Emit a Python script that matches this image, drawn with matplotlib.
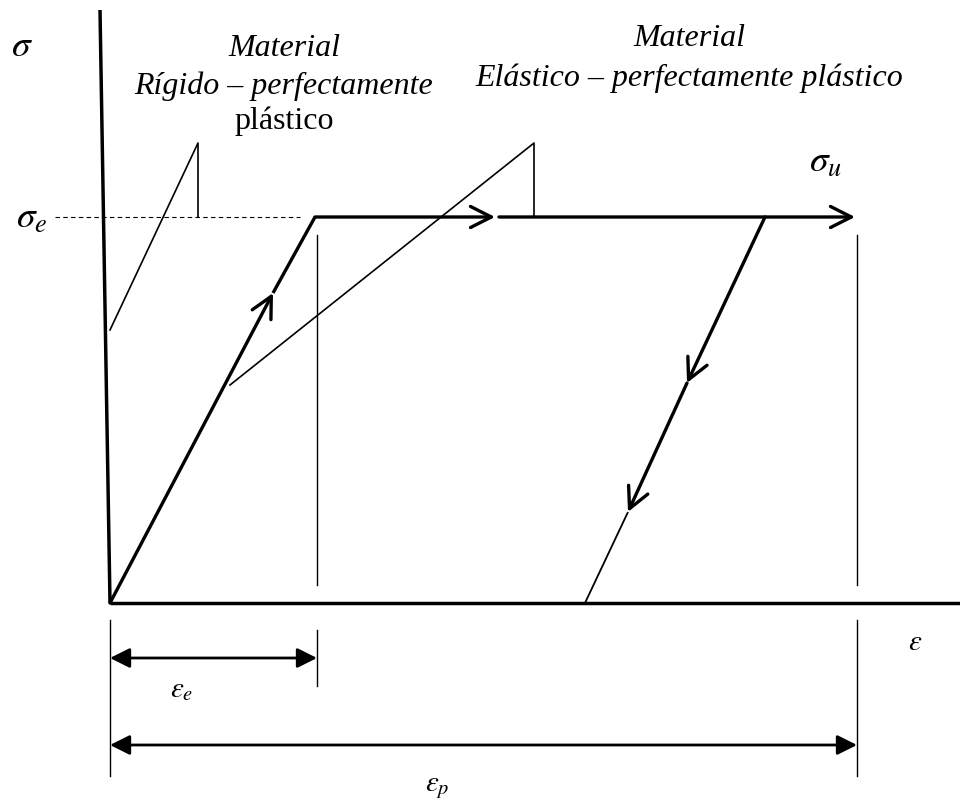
import matplotlib.pyplot as plt

plt.rcParams['mathtext.fontset'] = 'stix'
plt.rcParams['font.family'] = ['Liberation Serif', 'DejaVu Serif']

# Diagram geometry, in picture pixels (x right, y down)
origin = (110, 603)
axis_top = (100, 10)
axis_right = (960, 603)
yield_pt = (315, 217)          # end of elastic branch
elastic_mark = (273, 293)      # arrow on the elastic branch
plateau_mid = (495, 217)       # first arrow on the plateau
plateau_end = (855, 217)       # sigma_u arrow
unload_start = (765, 217)
unload_marks = [(687, 383), (628, 512)]
unload_end = (585, 603)
sigma_e_y = 217
dash_x = [55, 300]
guide_x = [317, 857]
guide_y = [235, 585]

# little sketches of each material model
rigid_sketch = [(110, 330), (198, 143), (198, 217)]
elastic_sketch = [(230, 385), (534, 143), (534, 217)]

# dimension lines under the axis
dim_ticks_x = [110, 317, 857]
dim_ticks_y = [(620, 776), (630, 686), (620, 776)]
eps_e_span = (110, 317, 658)
eps_p_span = (110, 857, 745)

fig = plt.figure(figsize=(9.6, 8.01), dpi=100)
ax = fig.add_axes([0, 0, 1, 1])
ax.set_xlim(0, 960)
ax.set_ylim(801, 0)
ax.axis('off')

thick = 2.4
thin = 1.0


def line(p, q, lw):
    ax.plot([p[0], q[0]], [p[1], q[1]], color='black', lw=lw, solid_capstyle='butt')


def chevron(p, q):
    ax.annotate('', xy=q, xytext=p,
                arrowprops=dict(arrowstyle='->,head_length=0.75,head_width=0.38',
                                lw=thick, color='black', mutation_scale=20,
                                shrinkA=0, shrinkB=0))


def dim_arrow(x0, x1, y):
    ax.annotate('', xy=(x1, y), xytext=(x0, y),
                arrowprops=dict(arrowstyle='<|-|>,head_length=0.6,head_width=0.3',
                                lw=2.0, color='black', mutation_scale=20,
                                shrinkA=0, shrinkB=0))


# axes
line(axis_top, origin, 2.5)
line(origin, axis_right, 2.5)

# dashed yield level
ax.plot(dash_x, [sigma_e_y, sigma_e_y], color='black', lw=0.8, ls=(0, (4, 3)))

# loading path
chevron(origin, elastic_mark)
line(elastic_mark, yield_pt, thick)
chevron(yield_pt, plateau_mid)
chevron((plateau_mid[0] + 4, plateau_mid[1]), plateau_end)

# unloading path
chevron(unload_start, unload_marks[0])
chevron(unload_marks[0], unload_marks[1])
line(unload_marks[1], unload_end, 1.3)

# vertical guide lines
for gx in guide_x:
    ax.plot([gx, gx], guide_y, color='black', lw=thin)

# material sketches
for pts in (rigid_sketch, elastic_sketch):
    ax.plot([p[0] for p in pts], [p[1] for p in pts], color='black', lw=1.2)

# dimensions
for dx, (y0, y1) in zip(dim_ticks_x, dim_ticks_y):
    ax.plot([dx, dx], [y0, y1], color='black', lw=thin)
dim_arrow(*eps_e_span)
dim_arrow(*eps_p_span)

# labels
fs = 23
ax.text(284, 48, 'Material', fontsize=fs, style='italic', ha='center', va='center')
ax.text(284, 86, 'Rígido – perfectamente', fontsize=fs, style='italic', ha='center', va='center')
ax.text(284, 121, 'plástico', fontsize=fs, ha='center', va='center')
ax.text(689, 38, 'Material', fontsize=fs, style='italic', ha='center', va='center')
ax.text(689, 78, 'Elástico – perfectamente plástico', fontsize=fs, style='italic',
        ha='center', va='center')

ax.text(22, 47, r'$\sigma$', fontsize=27, ha='center', va='center')
ax.text(32, 219, r'$\sigma_e$', fontsize=27, ha='center', va='center')
ax.text(826, 163, r'$\sigma_u$', fontsize=27, ha='center', va='center')
ax.text(915, 643, r'$\varepsilon$', fontsize=21, ha='center', va='center')
ax.text(182, 690, r'$\varepsilon_e$', fontsize=21, ha='center', va='center')
ax.text(437, 788, r'$\varepsilon_p$', fontsize=21, ha='center', va='center')

fig.savefig('out.png', dpi=100)
